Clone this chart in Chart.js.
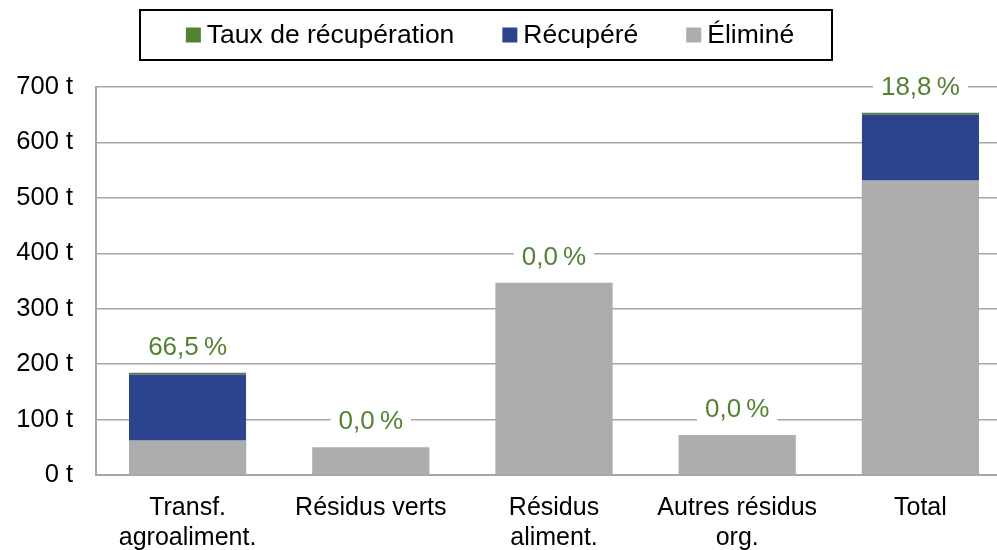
<!DOCTYPE html>
<html lang="fr">
<head>
<meta charset="utf-8">
<script src="https://cdn.jsdelivr.net/npm/chart.js@4"></script>
<style>
  html, body { margin: 0; padding: 0; background: #fff; overflow: hidden; }
  #wrap { width: 1012px; height: 550px; }
</style>
</head>
<body>
<div id="wrap"><canvas id="chart"></canvas></div>
<script>
/* ── Data ───────────────────────────────────────────────────────────────── */

const CATEGORIES = [
    ['Transf.', 'agroaliment.'],
    'Résidus verts',
    ['Résidus', 'aliment.'],
    ['Autres résidus', 'org.'],
    'Total',
];
const ELIMINE   = [62, 50, 347, 72, 531];      // t
const RECUPERE  = [123, 0, 0, 0, 123];         // t
const TAUX      = [66.5, 0.0, 0.0, 0.0, 18.8]; // %
const Y_TICKS   = [0, 100, 200, 300, 400, 500, 600, 700];
const LEGEND_ORDER = ['Taux de récupération', 'Récupéré', 'Éliminé'];

/* ── Theme ──────────────────────────────────────────────────────────────── */

const COLORS = {
    green: '#548235',
    blue:  '#2c438e',
    gray:  '#adadad',
    grid:  '#a6a6a6',
    text:  '#000000',
};
const SANS = "'Liberation Sans', Arial, sans-serif";

/* ── Plugins ────────────────────────────────────────────────────────────── */

// Rate labels above each stack, on a white box that hides the gridline.
const rateLabels = {
    id: 'rateLabels',
    afterDatasetsDraw(chart) {
        const { ctx } = chart;
        const rates = chart.data.datasets.find(d => d.id === 'taux').data;
        const elimMeta = chart.getDatasetMeta(1);
        const recupMeta = chart.getDatasetMeta(2);
        ctx.save();
        ctx.font = `26px ${SANS}`;
        ctx.textAlign = 'center';
        ctx.textBaseline = 'middle';
        rates.forEach((r, i) => {
            const bar = RECUPERE[i] > 0 ? recupMeta.data[i] : elimMeta.data[i];
            const txt = r.toFixed(1).replace('.', ',') + '\u202f%';
            const y = bar.y - 26;
            const w = ctx.measureText(txt).width + 16;
            ctx.fillStyle = '#fff';
            ctx.fillRect(bar.x - w / 2, y - 15, w, 30);
            ctx.fillStyle = COLORS.green;
            ctx.fillText(txt, bar.x, y + 1);
        });
        ctx.restore();
    },
};

// Boxed legend drawn in the reference order.
const boxedLegend = {
    id: 'boxedLegend',
    afterDraw(chart) {
        const { ctx } = chart;
        const items = LEGEND_ORDER.map(name => {
            const d = chart.data.datasets.find(ds => ds.label === name);
            return { label: d.label, color: d.legendColor };
        });
        ctx.save();
        ctx.font = `26.5px ${SANS}`;
        ctx.textBaseline = 'middle';
        const box = 15, gap = 6, spacing = 48;
        const widths = items.map(it => box + gap + ctx.measureText(it.label).width);
        const total = widths.reduce((a, b) => a + b, 0) + spacing * (items.length - 1);
        let x = 490 - total / 2;
        const cy = 35;
        ctx.strokeStyle = '#000';
        ctx.lineWidth = 2;
        ctx.strokeRect(140, 10, 692, 50);
        items.forEach((it, i) => {
            ctx.fillStyle = it.color;
            ctx.fillRect(x, cy - box / 2, box, box);
            ctx.fillStyle = COLORS.text;
            ctx.fillText(it.label, x + box + gap, cy + 1);
            x += widths[i] + spacing;
        });
        ctx.restore();
    },
};

/* ── Chart ──────────────────────────────────────────────────────────────── */

new Chart(document.getElementById('chart'), {
    data: {
        labels: CATEGORIES,
        datasets: [
            {
                id: 'taux',
                type: 'line',
                label: 'Taux de récupération',
                data: TAUX,
                yAxisID: 'yRate',
                showLine: false,
                pointRadius: 0,
                legendColor: COLORS.green,
            },
            {
                type: 'bar',
                label: 'Éliminé',
                data: ELIMINE,
                backgroundColor: COLORS.gray,
                legendColor: COLORS.gray,
                stack: 's',
            },
            {
                type: 'bar',
                label: 'Récupéré',
                data: RECUPERE,
                backgroundColor: COLORS.blue,
                borderColor: COLORS.green,
                borderWidth: { top: 2, left: 0, right: 0, bottom: 0 },
                borderSkipped: false,
                legendColor: COLORS.blue,
                stack: 's',
            },
        ],
    },
    options: {
        responsive: true,
        maintainAspectRatio: false,
        animation: false,
        layout: { padding: { top: 87, right: 0, left: 0, bottom: 0 } },
        datasets: { bar: { barPercentage: 0.64, categoryPercentage: 1 } },
        scales: {
            x: {
                stacked: true,
                grid: { display: false, drawTicks: false },
                border: { color: COLORS.grid, width: 2 },
                ticks: {
                    color: COLORS.text,
                    font: { family: SANS, size: 25 },
                    padding: 18,
                    maxRotation: 0,
                    autoSkip: false,
                },
                afterFit(scale) { scale.height = 75; },
            },
            y: {
                stacked: true,
                min: 0,
                max: 700,
                afterBuildTicks(scale) { scale.ticks = Y_TICKS.map(v => ({ value: v })); },
                grid: { color: COLORS.grid, lineWidth: 1.5, drawTicks: false },
                border: { color: COLORS.grid, width: 2 },
                ticks: {
                    color: COLORS.text,
                    font: { family: SANS, size: 25.5 },
                    padding: 23,
                    callback: v => `${v} t`,
                },
                afterFit(scale) { scale.width = 96; },
            },
            yRate: { display: false, min: 0, max: 100 },
        },
        plugins: {
            legend: { display: false },
            tooltip: { enabled: false },
        },
    },
    plugins: [rateLabels, boxedLegend],
});
</script>
</body>
</html>
